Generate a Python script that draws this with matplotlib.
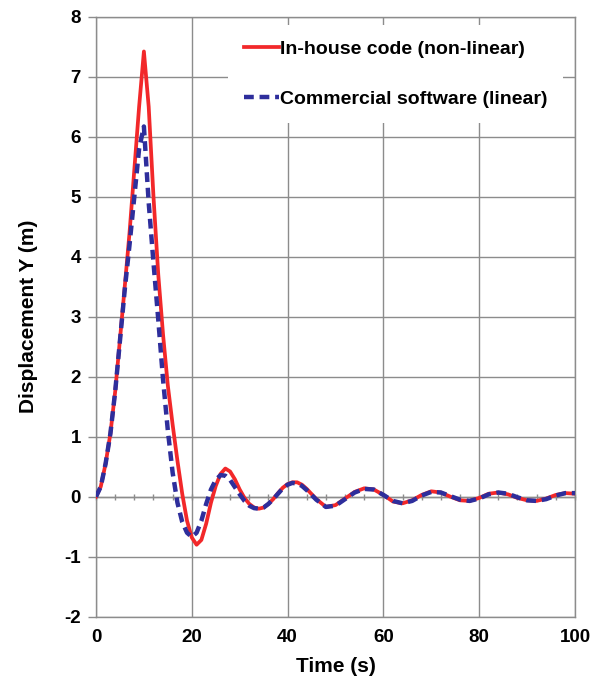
import matplotlib
matplotlib.use("Agg")
import matplotlib.pyplot as plt
import numpy as np

plt.rcParams["font.family"] = ["Liberation Sans", "DejaVu Sans"]
plt.rcParams["font.weight"] = "bold"
plt.rcParams["axes.unicode_minus"] = False

# Time samples (s)
time_s = [0, 1, 2, 3, 4, 5, 6, 7, 8, 9, 10, 11, 12, 13, 14, 15, 16, 17, 18, 19,
          20, 21, 22, 23, 24, 25, 26, 27, 28, 29, 30, 31, 32, 33, 34, 35, 36, 37,
          38, 39, 40, 41, 42, 43, 44, 46, 48, 50, 52, 54, 56, 58, 60, 62, 64, 66,
          68, 70, 72, 74, 76, 78, 80, 82, 84, 86, 88, 90, 92, 94, 96, 98, 100]

# Displacement Y (m), in-house non-linear code
disp_inhouse = [0.0, 0.17, 0.55, 1.05, 1.75, 2.62, 3.5, 4.4, 5.45, 6.5, 7.42,
                6.5, 5.0, 3.7, 2.7, 1.85, 1.2, 0.6, 0.05, -0.4,
                -0.68, -0.8, -0.72, -0.45, -0.1, 0.18, 0.38, 0.47, 0.42, 0.29,
                0.12, -0.02, -0.12, -0.18, -0.2, -0.18, -0.12, -0.04,
                0.06, 0.15, 0.21, 0.24, 0.24, 0.2, 0.13, -0.04, -0.17, -0.14,
                -0.03, 0.08, 0.14, 0.12, 0.03, -0.08, -0.11, -0.06,
                0.03, 0.09, 0.07, 0.0, -0.06, -0.07, -0.02, 0.05, 0.07, 0.04,
                -0.02, -0.06, -0.07, -0.03, 0.03, 0.06, 0.05]

# Displacement Y (m), commercial linear software
disp_commercial = [0.0, 0.17, 0.55, 1.05, 1.75, 2.6, 3.45, 4.2, 5.0, 5.8, 6.17,
                   4.9, 3.9, 2.95, 1.95, 1.1, 0.4, -0.1, -0.42, -0.6,
                   -0.67, -0.6, -0.4, -0.12, 0.12, 0.28, 0.36, 0.35, 0.28, 0.16,
                   0.04, -0.07, -0.15, -0.19, -0.2, -0.18, -0.12, -0.04,
                   0.05, 0.14, 0.2, 0.23, 0.22, 0.18, 0.11, -0.05, -0.17, -0.15,
                   -0.04, 0.07, 0.13, 0.12, 0.03, -0.07, -0.11, -0.07,
                   0.02, 0.08, 0.07, 0.01, -0.05, -0.07, -0.03, 0.04, 0.07, 0.05,
                   -0.01, -0.06, -0.07, -0.04, 0.02, 0.06, 0.06]

series_labels = ["In-house code (non-linear)", "Commercial software (linear)"]
x_ticks = [0, 20, 40, 60, 80, 100]
y_ticks = [-2, -1, 0, 1, 2, 3, 4, 5, 6, 7, 8]

grid_color = "#8c8c8c"
red = "#f2282a"
blue = "#2e2e9c"

fig = plt.figure(figsize=(5.93, 6.89), dpi=100)
ax = fig.add_axes([0.1619, 0.1049, 0.8077, 0.8709])

ax.set_xlim(0, 100)
ax.set_ylim(-2, 8)
ax.set_xticks(x_ticks)
ax.set_yticks(y_ticks)
ax.set_axisbelow(True)
ax.grid(True, color=grid_color, linewidth=1.0)

for side in ["left", "right", "top", "bottom"]:
    ax.spines[side].set_color(grid_color)
    ax.spines[side].set_linewidth(1.0)

ax.tick_params(axis="x", length=0, pad=9, labelsize=13.5)
ax.tick_params(axis="y", direction="out", length=5.8, width=1.0,
               color=grid_color, pad=5, labelsize=13.5)

# horizontal axis line through y = 0 with crossing tick marks
y0, y1 = ax.get_ylim()
zero_ax = ax.secondary_xaxis((0 - y0) / (y1 - y0))
zero_ax.set_xticks(np.arange(0, 101, 4))
zero_ax.tick_params(direction="inout", length=5.0, width=1.0,
                    color=grid_color, labelbottom=False)
zero_ax.spines["bottom"].set_color(grid_color)
zero_ax.spines["bottom"].set_linewidth(1.0)

ax.plot(time_s, disp_inhouse, color=red, linewidth=2.7,
        label=series_labels[0], zorder=3)
ax.plot(time_s, disp_commercial, color=blue, linewidth=3.2,
        linestyle=(0, (2.2, 1.3)), label=series_labels[1], zorder=4)

ax.set_xlabel("Time (s)", fontsize=15, fontweight="bold", labelpad=8)
ax.set_ylabel("Displacement Y (m)", fontsize=15, fontweight="bold", labelpad=19)

leg = ax.legend(loc="upper left", bbox_to_anchor=(0.2756, 0.986),
                borderaxespad=0, frameon=True, fancybox=False,
                prop={"size": 14, "weight": "bold"},
                handlelength=1.8, handletextpad=0.05, labelspacing=1.65,
                borderpad=0.8)
leg.get_frame().set_facecolor("white")
leg.get_frame().set_edgecolor("none")
leg.get_frame().set_alpha(1.0)

fig.savefig("out.png", dpi=100, facecolor="white")
